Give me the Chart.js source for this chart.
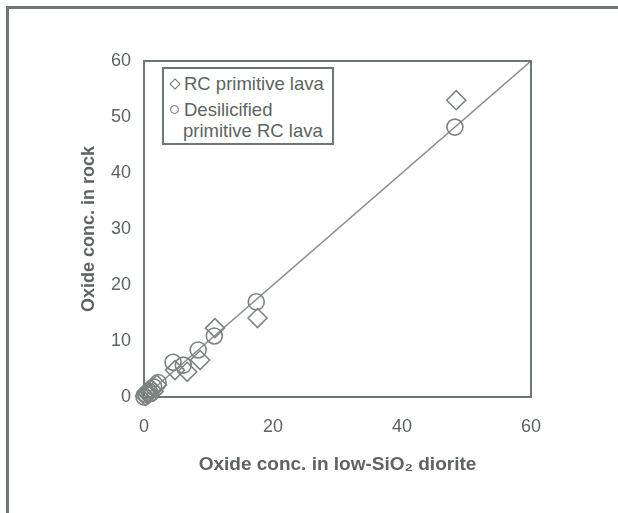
<!DOCTYPE html>
<html>
<head>
<meta charset="utf-8">
<script src="https://cdn.jsdelivr.net/npm/chart.js@4"></script>
<style>
  html, body { margin: 0; padding: 0; background: #fff; }
  #wrap { position: relative; width: 618px; height: 513px; overflow: hidden; font-family: "Liberation Sans", Arial, sans-serif; }
  #frame { position: absolute; left: 6px; top: 6px; width: 640px; height: 504px;
    border-left: 3px solid #6e7672; border-top: 3px solid #6e7672; border-bottom: 2px solid #c9cdca; }
  #chart { position: absolute; left: 0; top: 0; }
  #legend { position: absolute; left: 162px; top: 67px; width: 168px; height: 74px;
    border: 2px solid #6e7672; background: #fff; color: #5d6461; font-size: 18.5px; line-height: 22px; }
  .row { position: absolute; left: 5px; white-space: nowrap; }
  .dia { display: inline-block; width: 6px; height: 6px; border: 1.5px solid #6e7672; transform: rotate(45deg); margin: 0 5px 2px 2px; }
  .cir { display: inline-block; width: 7px; height: 7px; border: 1.5px solid #6e7672; border-radius: 50%; margin: 0 5px 2px 1px; }
</style>
</head>
<body>
<div id="wrap">
  <div id="frame"></div>
  <canvas id="chart" width="618" height="513"></canvas>
  <div id="legend">
    <div class="row" style="top:4px"><span class="dia"></span>RC primitive lava</div>
    <div class="row" style="top:30px"><span class="cir"></span>Desilicified</div>
    <div class="row" style="top:51px; left:19px">primitive RC lava</div>
  </div>
</div>
<script>
const seriesNames = ["RC primitive lava", "Desilicified primitive RC lava"];
// x = oxide conc. in low-SiO2 diorite, y = oxide conc. in rock
const lavaX = [48.4, 17.6, 11.0, 8.7, 6.7, 4.8, 2.0, 1.5, 1.2, 0.6, 0.4, 0.2];
const lavaY = [53.0, 14.1, 12.3, 6.6, 4.5, 4.8, 2.2, 1.0, 1.3, 0.5, 0.9, 0.2];
const desilX = [48.2, 17.4, 10.9, 8.4, 6.1, 4.5, 2.2, 1.5, 1.0, 0.8, 0.3, 0.0];
const desilY = [48.2, 17.0, 10.9, 8.4, 5.7, 6.2, 2.6, 1.8, 0.6, 1.0, 0.5, 0.0];
const lineX = [0, 60];
const lineY = [0, 60];
const xTicks = [0, 20, 40, 60];
const yTicks = [0, 10, 20, 30, 40, 50, 60];

const grey = "#6e7672";
const markGrey = "#7d8480";
const toPts = (xs, ys) => xs.map((x, i) => ({ x: x, y: ys[i] }));

new Chart(document.getElementById("chart"), {
  type: "scatter",
  data: {
    datasets: [
      {
        label: "1:1",
        type: "line",
        data: toPts(lineX, lineY),
        borderColor: "#8a918d",
        borderWidth: 1.5,
        pointRadius: 0,
        fill: false,
        order: 3
      },
      {
        label: seriesNames[0],
        data: toPts(lavaX, lavaY),
        pointStyle: "rectRot",
        pointRadius: 9.5,
        borderColor: markGrey,
        backgroundColor: "rgba(0,0,0,0)",
        pointBorderWidth: 1.6,
        clip: false,
        order: 2
      },
      {
        label: seriesNames[1],
        data: toPts(desilX, desilY),
        pointStyle: "circle",
        pointRadius: 8,
        borderColor: markGrey,
        backgroundColor: "rgba(0,0,0,0)",
        pointBorderWidth: 1.6,
        clip: false,
        order: 1
      }
    ]
  },
  options: {
    responsive: false,
    animation: false,
    layout: { padding: { left: 78, top: 61, right: 87, bottom: 34 } },
    plugins: { legend: { display: false }, tooltip: { enabled: false } },
    scales: {
      x: {
        type: "linear", min: 0, max: 60,
        afterBuildTicks: s => { s.ticks = xTicks.map(v => ({ value: v })); },
        afterFit: s => { s.height = 82; },
        border: { color: grey, width: 2 },
        grid: { display: false, drawTicks: true, tickLength: 5, tickColor: grey },
        ticks: { color: "#5d6461", font: { family: "Liberation Sans", size: 18 }, padding: 14 },
        title: { display: true, text: "Oxide conc. in low-SiO₂ diorite", color: "#5d6461",
          font: { family: "Liberation Sans", size: 19, weight: "bold" }, padding: { top: 6, bottom: 3 } }
      },
      y: {
        type: "linear", min: 0, max: 60,
        afterBuildTicks: s => { s.ticks = yTicks.map(v => ({ value: v })); },
        afterFit: s => { s.width = 66; },
        border: { color: grey, width: 2 },
        grid: { display: false, drawTicks: true, tickLength: 5, tickColor: grey },
        ticks: { color: "#5d6461", font: { family: "Liberation Sans", size: 18 }, padding: 8 },
        title: { display: true, text: "Oxide conc. in rock", color: "#5d6461",
          font: { family: "Liberation Sans", size: 18, weight: "bold" }, padding: 0 }
      }
    }
  },
  plugins: [{
    id: "box",
    afterDraw(chart) {
      const { ctx, chartArea: a } = chart;
      ctx.save();
      ctx.strokeStyle = grey;
      ctx.lineWidth = 2;
      ctx.beginPath();
      ctx.moveTo(a.left, a.top);
      ctx.lineTo(a.right, a.top);
      ctx.lineTo(a.right, a.bottom);
      ctx.stroke();
      ctx.restore();
    }
  }]
});
</script>
</body>
</html>
